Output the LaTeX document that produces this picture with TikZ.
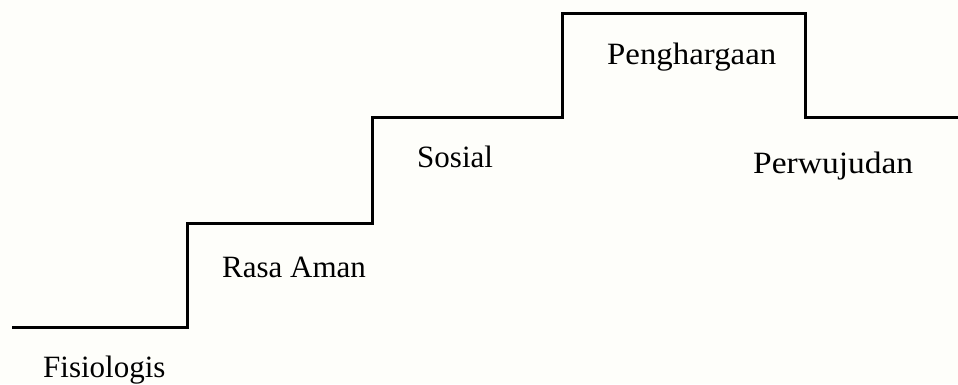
\documentclass[tikz,border=0pt]{standalone}
\usepackage{fontspec}
\usepackage{graphicx}
\setmainfont{Liberation Serif}
\definecolor{papercream}{RGB}{254,254,250}
\tikzset{
  stairline/.style={line width=3pt, black, line join=miter},
  levellabel/.style={anchor=base west, inner sep=0pt, font=\fontsize{31}{36}\selectfont, text=black}
}
\begin{document}
\begin{tikzpicture}[x=1pt, y=-1pt]
  % paper
  \fill[papercream] (0,0) rectangle (958,384);
  \useasboundingbox (0,0) rectangle (958,384);
  % corners of the staircase
  \coordinate (s0) at (12,327);
  \coordinate (s1) at (187,327);
  \coordinate (s2) at (187,223);
  \coordinate (s3) at (372,223);
  \coordinate (s4) at (372,117);
  \coordinate (s5) at (562,117);
  \coordinate (s6) at (562,13);
  \coordinate (s7) at (805,13);
  \coordinate (s8) at (805,117);
  \coordinate (s9) at (958,117);
  \draw[stairline] (s0) -- (s1) -- (s2) -- (s3) -- (s4) -- (s5) -- (s6) -- (s7) -- (s8) -- (s9);
  % level labels
  \node[levellabel] (fis) at (43,377) {Fisiologis};
  \node[levellabel] (ama) at (222,277) {Rasa Aman};
  \node[levellabel] (sos) at (417,167) {Sosial};
  \node[levellabel] (phg) at (607,64) {\scalebox{1.06}[1]{Penghargaan}};
  \node[levellabel] (pwj) at (753,173) {\scalebox{1.08}[1]{Perwujudan}};
\end{tikzpicture}
\end{document}
